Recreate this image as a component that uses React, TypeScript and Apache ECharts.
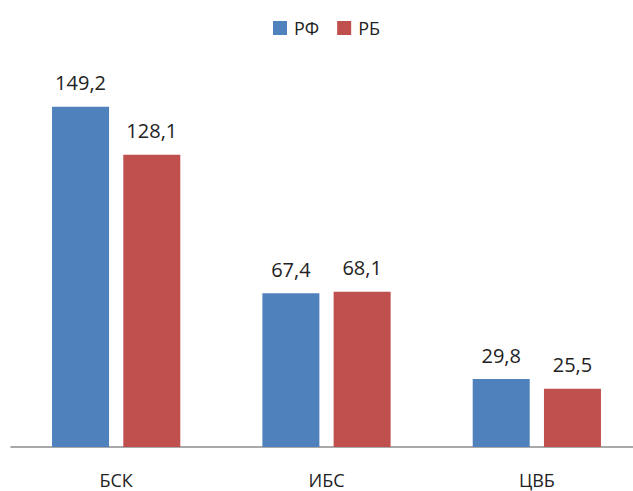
import React, { useEffect, useRef } from "react";
import * as echarts from "echarts";

const categories = ["БСК", "ИБС", "ЦВБ"];
const seriesNames = ["РФ", "РБ"];
const valuesRF = [149.2, 67.4, 29.8];
const valuesRB = [128.1, 68.1, 25.5];
const colors = ["#4F81BD", "#C0504D"];

const FONT = "Open Sans";

export default function App() {
  const ref = useRef<HTMLDivElement>(null);
  useEffect(() => {
    if (!ref.current) return;
    const chart = echarts.init(ref.current, undefined, { renderer: "svg" });
    const fmt = (p: any) => String(p.value).replace(".", ",");
    chart.setOption({
      animation: false,
      backgroundColor: "#fff",
      legend: {
        data: seriesNames,
        top: 14,
        left: 268,
        itemWidth: 14,
        itemHeight: 14,
        itemGap: 18,
        icon: "rect",
        textStyle: { fontFamily: FONT, fontSize: 18, color: "#222", padding: [0, 0, 0, 2] },
      },
      grid: { left: 11, top: 82, width: 631, height: 365, containLabel: false },
      xAxis: {
        type: "category",
        data: categories,
        axisLine: { show: true, lineStyle: { color: "#8c8c8c", width: 1.5 } },
        axisTick: { show: false },
        axisLabel: { fontFamily: FONT, fontSize: 18, color: "#222", margin: 24 },
      },
      yAxis: {
        type: "value",
        min: 0,
        max: 160,
        show: false,
        splitLine: { show: false },
      },
      series: [
        {
          name: seriesNames[0],
          type: "bar",
          data: valuesRF,
          barWidth: 57,
          barGap: "25%",
          itemStyle: { color: colors[0] },
          label: { show: true, position: "top", distance: 14, formatter: fmt, fontFamily: FONT, fontSize: 20, color: "#222" },
        },
        {
          name: seriesNames[1],
          type: "bar",
          data: valuesRB,
          barWidth: 57,
          barGap: "25%",
          itemStyle: { color: colors[1] },
          label: { show: true, position: "top", distance: 14, formatter: fmt, fontFamily: FONT, fontSize: 20, color: "#222" },
        },
      ],
    });
    return () => chart.dispose();
  }, []);
  return (
    <div style={{ position: "fixed", left: 0, top: 0, width: 633, height: 491, overflow: "hidden" }}>
      <div ref={ref} style={{ width: 660, height: 491 }} />
    </div>
  );
}
